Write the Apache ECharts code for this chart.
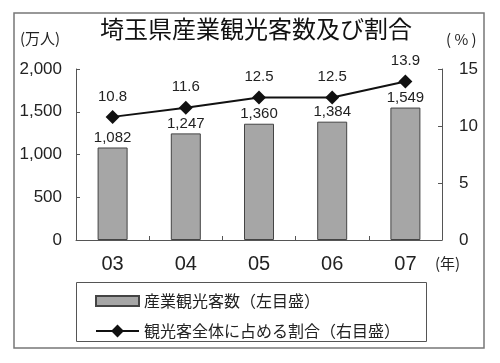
<!DOCTYPE html>
<html><head><meta charset="utf-8">
<script src="https://cdn.jsdelivr.net/npm/echarts@6/dist/echarts.min.js"></script>
<style>html,body{margin:0;padding:0;background:#fff}#c{width:500px;height:363px}</style>
</head><body><div id="c"></div>
<script>
const categories = ['03', '04', '05', '06', '07'];
const visitors = [1082, 1247, 1360, 1384, 1549];
const shares = [10.8, 11.6, 12.5, 12.5, 13.9];
const leftTicks = [0, 500, 1000, 1500, 2000];
const rightTicks = [0, 5, 10, 15];
const barName = '産業観光客数（左目盛）';
const lineName = '観光客全体に占める割合（右目盛）';

const NUM = '"Liberation Sans", Arial, "Noto Sans CJK JP", sans-serif';
const JP = '"Noto Sans CJK JP", sans-serif';
const TXT = '#222';
const AX = '#555';

const chart = echarts.init(document.getElementById('c'), null, {renderer: 'canvas'});
chart.setOption({
  animation: false,
  backgroundColor: '#fff',
  grid: {left: 76, right: 58, top: 69, bottom: 123, containLabel: false},
  graphic: [
    {type: 'rect', shape: {x: 14, y: 13, width: 470, height: 335}, style: {fill: 'none', stroke: '#777', lineWidth: 1.5}, z: -1},
    {type: 'rect', shape: {x: 76.5, y: 282.5, width: 350, height: 59}, style: {fill: 'none', stroke: '#555', lineWidth: 1}},
    {type: 'text', x: 256, y: 29, style: {text: '埼玉県産業観光客数及び割合', font: 'normal 24px ' + JP, fill: '#111', align: 'center', verticalAlign: 'middle'}},
    {type: 'text', x: 20, y: 38, style: {text: '(万人)', font: '15px ' + JP, fill: TXT, align: 'left', verticalAlign: 'middle'}},
    {type: 'text', x: 446, y: 39, style: {text: '( % )', font: '15px ' + JP, fill: TXT, align: 'left', verticalAlign: 'middle'}},
    {type: 'text', x: 435, y: 263, style: {text: '(年)', font: '15px ' + JP, fill: TXT, align: 'left', verticalAlign: 'middle'}}
  ],
  legend: {
    orient: 'vertical', left: 95, top: 292,
    itemWidth: 43, itemHeight: 16, itemGap: 12, padding: 0,
    symbolKeepAspect: true,
    textStyle: {fontFamily: JP, fontSize: 16, color: TXT, lineHeight: 18},
    data: [
      {name: barName, icon: 'path://M0,0 L43,0 L43,10 L0,10 Z'},
      {name: lineName}
    ]
  },
  xAxis: {
    type: 'category', data: categories,
    axisLine: {lineStyle: {color: AX, width: 1}},
    axisTick: {show: true, inside: true, length: 4, lineStyle: {color: AX}},
    axisLabel: {fontFamily: NUM, fontSize: 20, color: TXT, margin: 14}
  },
  yAxis: [
    {
      type: 'value', min: 0, max: 2000, interval: 500, position: 'left',
      splitLine: {show: false},
      axisLine: {show: true, lineStyle: {color: AX, width: 1}},
      axisTick: {show: true, inside: true, length: 4, lineStyle: {color: AX}},
      axisLabel: {fontFamily: NUM, fontSize: 17, color: TXT, margin: 14,
        formatter: v => leftTicks.includes(v) ? v.toLocaleString('en-US') : ''}
    },
    {
      type: 'value', min: 0, max: 15, interval: 5, position: 'right',
      splitLine: {show: false},
      axisLine: {show: true, lineStyle: {color: AX, width: 1}},
      axisTick: {show: true, inside: true, length: 4, lineStyle: {color: AX}},
      axisLabel: {fontFamily: NUM, fontSize: 17, color: TXT, margin: 17,
        formatter: v => rightTicks.includes(v) ? String(v) : ''}
    }
  ],
  series: [
    {
      name: barName, type: 'bar', yAxisIndex: 0, data: visitors, barWidth: 30,
      itemStyle: {color: '#a6a6a6', borderColor: '#444', borderWidth: 1},
      label: {show: true, position: 'top', distance: 2, fontFamily: NUM, fontSize: 15, color: TXT,
        formatter: p => p.value.toLocaleString('en-US')}
    },
    {
      name: lineName, type: 'line', yAxisIndex: 1, data: shares,
      symbol: 'diamond', symbolSize: 14,
      lineStyle: {color: '#111', width: 2},
      itemStyle: {color: '#111'},
      label: {show: true, position: 'top', distance: 6, fontFamily: NUM, fontSize: 15, color: TXT,
        formatter: p => p.value.toFixed(1)}
    }
  ]
});
</script></body></html>
